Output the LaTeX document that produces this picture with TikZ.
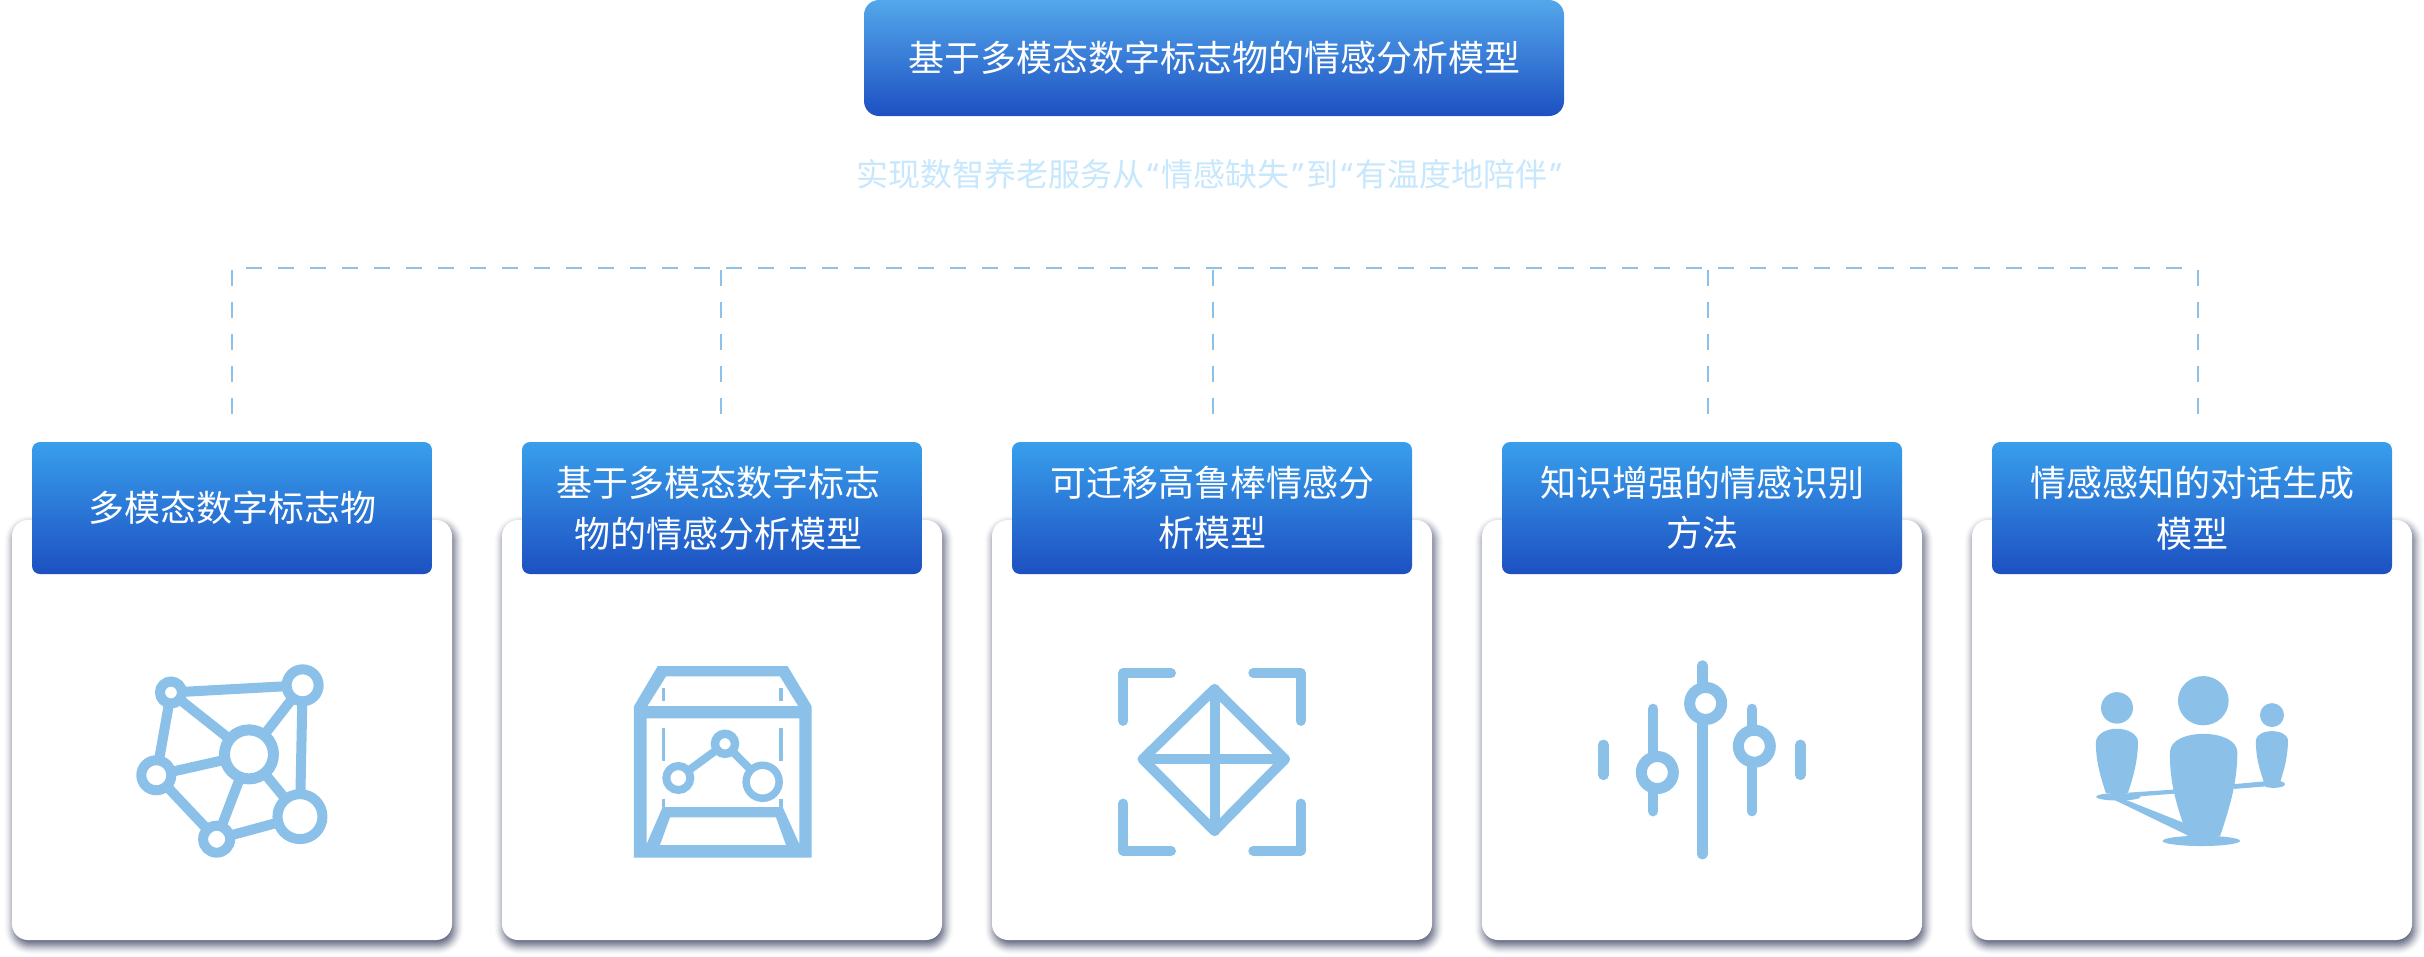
\documentclass[tikz,border=0pt]{standalone}
\usepackage{fontspec}
\usepackage{tikz}
\usetikzlibrary{positioning}
\setmainfont{Noto Sans CJK SC}
\newfontfamily\quotefont{Noto Sans}
\newcommand{\openquote}{\makebox[17pt]{\quotefont “}}
\newcommand{\closequote}{\makebox[17pt]{\quotefont ”}}
\definecolor{iconblue}{HTML}{8BC1E8}
\definecolor{dashblue}{HTML}{8AC2EB}
\definecolor{subblue}{HTML}{C6E7FC}
\definecolor{headtop}{HTML}{389FEC}
\definecolor{headbot}{HTML}{1D50C2}
\definecolor{titletop}{HTML}{53A7EB}
\definecolor{shadowgrey}{HTML}{3A4060}

\tikzset{
  headbox/.style={rectangle,rounded corners=8pt,minimum width=400pt,minimum height=132pt,
    top color=headtop,bottom color=headbot,text=white,align=center,inner sep=0pt,
    font=\fontsize{36}{50.5}\selectfont},
  titlebox/.style={headbox,rounded corners=15pt,minimum width=700pt,minimum height=116pt,
    top color=titletop},
  subline/.style={text=subblue,inner sep=0pt,font=\fontsize{32}{40}\selectfont},
  cardbox/.style={rectangle,rounded corners=16pt,minimum width=440pt,minimum height=420pt,
    fill=white,inner sep=0pt},
  shadowlayer/.style={fill=shadowgrey,opacity=#1},
  busline/.style={dashblue,line width=2pt,dash pattern=on 16pt off 16pt},
  icon/.style={iconblue,line width=10pt},
  iconzone/.style={shift={(#1,420)},x=0.3333pt,y=-0.3419pt},
  ring/.style 2 args={circle,draw=iconblue,fill=white,line width=#2,minimum size=#1,
    inner sep=0pt,outer sep=0pt},
}

\begin{document}
\begin{tikzpicture}[x=1pt,y=-1pt,node distance=490pt,on grid]
  \useasboundingbox (0,0) rectangle (2424,956);

  \node[titlebox] (title) at (1214,58) {基于多模态数字标志物的情感分析模型};
  \node[subline] (subtitle) [below=116pt of title,xshift=-3.5pt] {实现数智养老服务从\openquote 情感缺失\closequote 到\openquote 有温度地陪伴\closequote};

  % soft shadows under the cards
  \foreach \cx in {232,722,1212,1702,2192} {
    \foreach \r in {-7,-6,...,10} {
      \pgfmathsetmacro{\layer}{0.008+0.011*(10-\r)}
      \fill[shadowlayer=\layer,rounded corners=16pt+\r pt] (\cx-218-\r,525-\r) rectangle (\cx+222+\r,945+\r);
    }
  }

  % cards
  \node[cardbox] (card1) at (232,730) {};
  \node[cardbox] (card2) [right=of card1] {};
  \node[cardbox] (card3) [right=of card2] {};
  \node[cardbox] (card4) [right=of card3] {};
  \node[cardbox] (card5) [right=of card4] {};

  \node[headbox] (head1) [above=222pt of card1] {多模态数字标志物};
  \node[headbox] (head2) [above=222pt of card2] {基于多模态数字标志\kern8pt\\物的情感分析模型\kern8pt};
  \node[headbox] (head3) [above=222pt of card3] {可迁移高鲁棒情感分\\析模型};
  \node[headbox] (head4) [above=222pt of card4] {知识增强的情感识别\\方法};
  \node[headbox] (head5) [above=222pt of card5] {情感感知的对话生成\\模型};

  % dashed bus
  \coordinate (busL) at (246,268);
  \coordinate (busR) at (2198,268);
  \draw[busline] (busL) -- (busR);
  \foreach \i/\bx in {1/232,2/721,3/1213,4/1708,5/2198} {
    \coordinate (top\i) at (\bx,270);
    \coordinate (drop\i) at (\bx,414);
    \draw[busline] (top\i) -- (drop\i);
  }

  % icon 1
  \begin{scope}[iconzone=0]
    \node[ring={22pt}{10pt}] (n1a) at (513,797) {};
    \node[ring={32pt}{10pt}] (n1b) at (908,776) {};
    \node[ring={49pt}{11pt}] (n1c) at (747,978) {};
    \node[ring={30pt}{10pt}] (n1d) at (469,1039) {};
    \node[ring={27pt}{10pt}] (n1e) at (650,1226) {};
    \node[ring={45pt}{10pt}] (n1f) at (900,1160) {};
    \draw[icon] (n1a) -- (n1b);
    \draw[icon] (n1a) -- (n1c);
    \draw[icon] (n1a) -- (n1d);
    \draw[icon] (n1b) -- (n1c);
    \draw[icon] (n1b) -- (n1f);
    \draw[icon] (n1c) -- (n1d);
    \draw[icon] (n1c) -- (n1e);
    \draw[icon] (n1c) -- (n1f);
    \draw[icon] (n1d) -- (n1e);
    \draw[icon] (n1e) -- (n1f);
  \end{scope}

  % icon 2
  \begin{scope}[iconzone=490]
    \fill[iconblue,even odd rule]
      (503,720) -- (893,720) -- (965,837) -- (965,1280) -- (432,1280) -- (432,837) -- cycle
      (528,750) -- (870,750) -- (925,837) -- (472,837) -- cycle
      (470,873) -- (928,873) -- (928,1240) -- (878,1132) -- (518,1132) -- (470,1240) -- cycle
      (540,1162) -- (858,1162) -- (888,1243) -- (510,1243) -- cycle;
    \foreach \bx in {521,873} {
      \draw[iconblue,line width=3.5pt] (\bx,785) -- (\bx,822) (\bx,902) -- (\bx,998) (\bx,1108) -- (\bx,1132);
    }
    \node[ring={24pt}{8pt}] (n2a) at (565,1047) {};
    \node[ring={20pt}{8.5pt}] (n2b) at (705,947) {};
    \node[ring={33pt}{7.5pt}] (n2c) at (818,1058) {};
    \draw[icon,line width=8pt] (n2a) -- (n2b);
    \draw[icon,line width=8pt] (n2b) -- (n2c);
  \end{scope}

  % icon 3
  \begin{scope}[iconzone=980,line cap=round,line join=round]
    \draw[icon] (430,880) -- (430,740) -- (573,740);
    \draw[icon] (820,740) -- (962,740) -- (962,880);
    \draw[icon] (430,1122) -- (430,1260) -- (573,1260);
    \draw[icon] (820,1260) -- (962,1260) -- (962,1122);
    \draw[icon] (703,787) -- (915,992) -- (703,1202) -- (488,992) -- cycle;
    \draw[icon] (705,787) -- (705,1202);
    \draw[icon] (488,992) -- (915,992);
  \end{scope}

  % icon 4
  \begin{scope}[iconzone=1470,line cap=round]
    \draw[icon,line width=10.5pt] (400,950) -- (400,1038);
    \draw[icon,line width=10.5pt] (991,950) -- (991,1038);
    \draw[icon,line width=10.5pt] (549,845) -- (549,1144);
    \draw[icon,line width=10.5pt] (697,718) -- (697,1270);
    \draw[icon,line width=10.5pt] (846,845) -- (846,1144);
    \node[ring={32pt}{11pt}] (n4a) at (562,1031) {};
    \node[ring={32pt}{11pt}] (n4b) at (707,829) {};
    \node[ring={32pt}{11pt}] (n4c) at (853,954) {};
  \end{scope}

  % icon 5
  \begin{scope}[iconzone=1960]
    \fill[iconblue] (730,821) ellipse[x radius=76,y radius=72];
    \fill[iconblue] (471,842) ellipse[x radius=48,y radius=46];
    \fill[iconblue] (936,863) ellipse[x radius=36,y radius=35];
    \fill[iconblue] (683,1218) .. controls (650,1130) and (628,1060) .. (630,970)
      .. controls (632,935) and (680,918) .. (730,918)
      .. controls (780,918) and (830,935) .. (832,970)
      .. controls (832,1060) and (810,1130) .. (780,1218) -- cycle;
    \fill[iconblue] (438,1092) .. controls (420,1040) and (406,990) .. (408,940)
      .. controls (410,918) and (440,903) .. (471,903)
      .. controls (502,903) and (532,918) .. (534,940)
      .. controls (534,990) and (522,1040) .. (503,1092) -- cycle;
    \fill[iconblue] (912,1060) .. controls (898,1020) and (886,980) .. (888,935)
      .. controls (890,920) and (912,910) .. (936,910)
      .. controls (960,910) and (982,920) .. (984,935)
      .. controls (984,980) and (974,1020) .. (960,1060) -- cycle;
    \fill[iconblue] (724,1231) ellipse[x radius=116,y radius=15];
    \fill[iconblue] (475,1102) ellipse[x radius=67,y radius=11];
    \fill[iconblue] (941,1065) ellipse[x radius=34,y radius=11];
    \fill[iconblue] (503,1090) -- (642,1081) -- (642,1093) -- (520,1102) -- cycle;
    \fill[iconblue] (822,1065) -- (912,1057) -- (912,1072) -- (822,1079) -- cycle;
    \fill[iconblue] (465,1112) -- (500,1112) -- (668,1177) -- (690,1218) -- cycle;
  \end{scope}
\end{tikzpicture}
\end{document}
